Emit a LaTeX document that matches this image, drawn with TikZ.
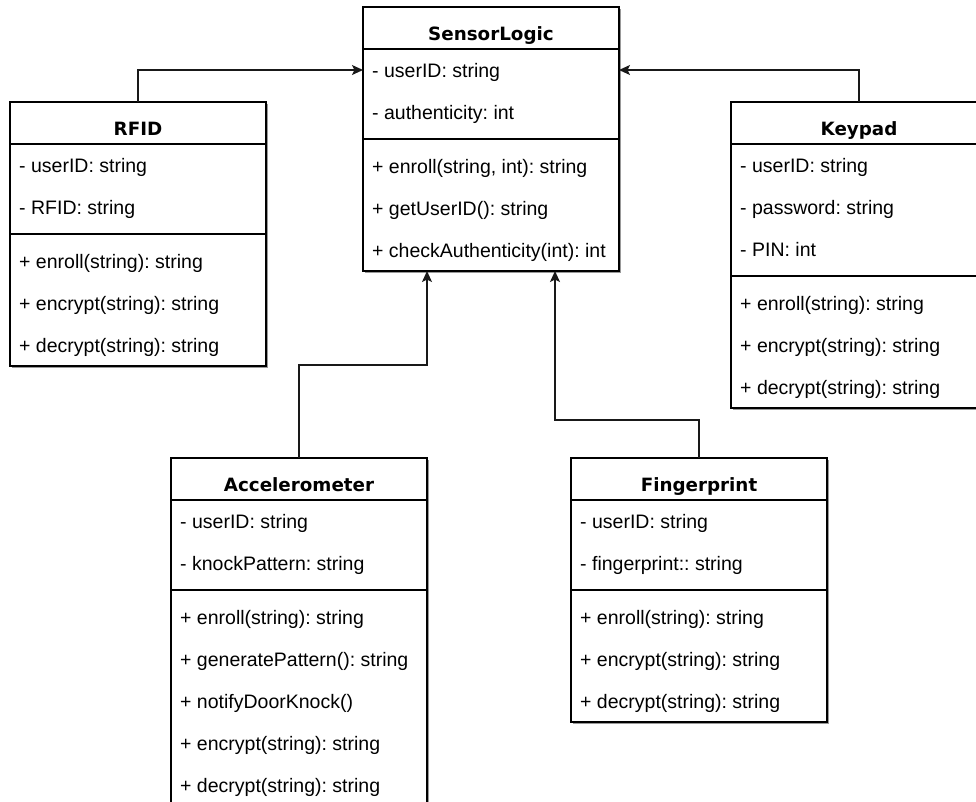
\documentclass[tikz,border=0pt]{standalone}
\usepackage{fontspec}
\setmainfont{Liberation Sans}
\newfontfamily\headfont{DejaVu Sans}
\usetikzlibrary{arrows.meta,shadows,calc}
\frenchspacing

% one row of a class box is 42pt high, the gap round a divider 12pt
\tikzset{
  classbox/.style={draw=black, line width=1.2pt, fill=white, anchor=north west,
    minimum width=256pt, inner sep=0pt, outer sep=0pt,
    drop shadow={shadow xshift=2pt, shadow yshift=-2pt, fill=black!40, opacity=1}},
  classname/.style={font=\headfont\bfseries\fontsize{18.3}{20}\selectfont,
    anchor=base, inner sep=0pt},
  member/.style={font=\fontsize{19.5}{22}\selectfont, anchor=base west, inner sep=0pt},
  divider/.style={line width=1.2pt},
  inherit/.style={line width=1.3pt, draw=black!90,
    -{Stealth[length=11pt,width=10pt,inset=2.5pt]}},
}

% #1 id, #2 top-left corner, #3 title, #4 number of attributes,
% #5 number of methods, #6 attribute list, #7 method list
\newcommand\umlclassbox[7]{%
  \pgfmathsetmacro\boxh{42+42*#4+12+42*#5}%
  \node[classbox, minimum height=\boxh pt] (#1) at (#2) {};
  \node[classname] (#1-title) at ($(#1.north)+(0,33)$) {#3};
  \draw[divider] ($(#1.north west)+(0,42)$) -- ($(#1.north east)+(0,42)$);
  \pgfmathsetmacro\divy{42+42*#4+6}%
  \draw[divider] ($(#1.north west)+(0,\divy)$) -- ($(#1.north east)+(0,\divy)$);
  \foreach \t [count=\i] in {#6} {
    \pgfmathsetmacro\ry{42+42*\i-21+7}
    \node[member] (#1-a\i) at ($(#1.north west)+(9,\ry)$) {\t};
  }
  \foreach \t [count=\i] in {#7} {
    \pgfmathsetmacro\ry{42+42*#4+12+42*\i-21+7}
    \node[member] (#1-m\i) at ($(#1.north west)+(9,\ry)$) {\t};
  }
}

\begin{document}
\begin{tikzpicture}[x=1pt,y=-1pt]
\useasboundingbox (0,0) rectangle (976,801);
\clip (0,0) rectangle (976,801);
\fill[white] (0,0) rectangle (976,801);

\umlclassbox{sl}{363,7}{SensorLogic}{2}{3}
  {- userID: string, - authenticity: int}
  {{+ enroll(string, int): string}, + getUserID(): string, + checkAuthenticity(int): int}

\umlclassbox{rfid}{10,102}{RFID}{2}{3}
  {- userID: string, - RFID: string}
  {+ enroll(string): string, + encrypt(string): string, + decrypt(string): string}

\umlclassbox{kp}{731,102}{Keypad}{3}{3}
  {- userID: string, - password: string, - PIN: int}
  {+ enroll(string): string, + encrypt(string): string, + decrypt(string): string}

\umlclassbox{acc}{171,458}{Accelerometer}{2}{5}
  {- userID: string, - knockPattern: string}
  {+ enroll(string): string, + generatePattern(): string, + notifyDoorKnock(),
   + encrypt(string): string, + decrypt(string): string}

\umlclassbox{fp}{571,458}{Fingerprint}{2}{3}
  {- userID: string, - fingerprint:: string}
  {+ enroll(string): string, + encrypt(string): string, + decrypt(string): string}

% inheritance connectors
\coordinate (sl-in) at ($(sl.north west)+(0,63)$);
\coordinate (acc-bend) at ($(sl.south)+(-64,94)$);
\coordinate (fp-bend) at ($(sl.south)+(64,149)$);

\draw[inherit] (rfid.north) |- (sl.west |- sl-in);
\draw[inherit] (kp.north) |- (sl.east |- sl-in);
\draw[inherit] (acc.north) |- (acc-bend) -- (acc-bend |- sl.south);
\draw[inherit] (fp.north) |- (fp-bend) -- (fp-bend |- sl.south);
\end{tikzpicture}
\end{document}
